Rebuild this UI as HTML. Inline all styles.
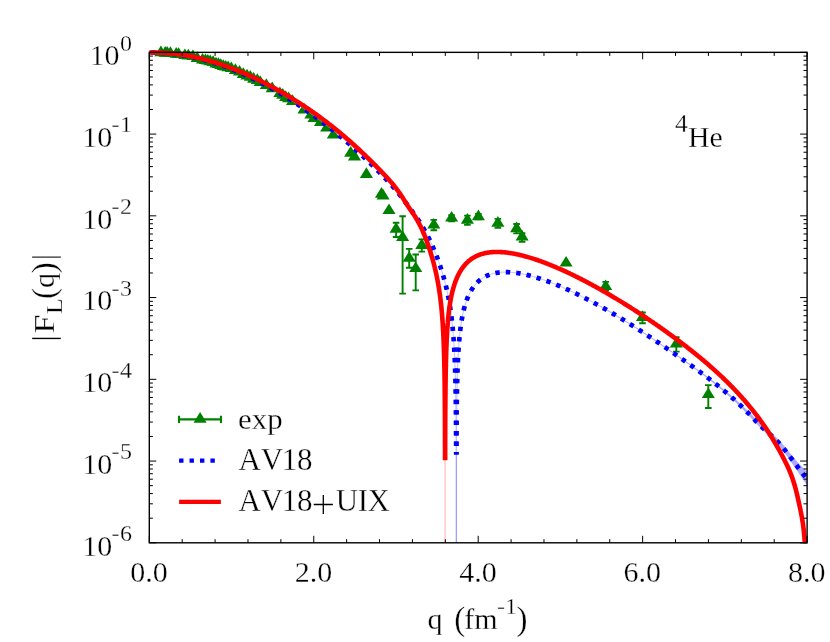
<!DOCTYPE html>
<html><head><meta charset="utf-8"><title>4He form factor</title>
<style>html,body{margin:0;padding:0;background:#fff}svg{display:block}text{font-family:"Liberation Serif",serif;fill:#000;stroke:#fff;stroke-width:0.3px}</style></head><body>
<svg style="will-change:transform" width="830" height="642" viewBox="0 0 830 642">
<rect width="830" height="642" fill="#fff"/>
<g fill="#008000" stroke="none">
<path d="M160.90,45.50 L154.35,56.20 L167.45,56.20 Z"/>
<path d="M165.20,46.00 L158.65,56.70 L171.75,56.70 Z"/>
<path d="M167.20,45.90 L160.65,56.60 L173.75,56.60 Z"/>
<path d="M170.40,46.20 L163.85,56.90 L176.95,56.90 Z"/>
<path d="M176.20,47.00 L169.65,57.70 L182.75,57.70 Z"/>
<path d="M178.60,47.20 L172.05,57.90 L185.15,57.90 Z"/>
<path d="M184.90,48.40 L178.35,59.10 L191.45,59.10 Z"/>
<path d="M188.30,48.80 L181.75,59.50 L194.85,59.50 Z"/>
<path d="M192.90,49.40 L186.35,60.10 L199.45,60.10 Z"/>
<path d="M197.20,51.30 L190.65,62.00 L203.75,62.00 Z"/>
<path d="M202.50,52.90 L195.95,63.60 L209.05,63.60 Z"/>
<path d="M205.40,53.40 L198.85,64.10 L211.95,64.10 Z"/>
<path d="M207.80,53.90 L201.25,64.60 L214.35,64.60 Z"/>
<path d="M210.20,54.60 L203.65,65.30 L216.75,65.30 Z"/>
<path d="M213.10,55.30 L206.55,66.00 L219.65,66.00 Z"/>
<path d="M216.00,56.80 L209.45,67.50 L222.55,67.50 Z"/>
<path d="M218.40,57.30 L211.85,68.00 L224.95,68.00 Z"/>
<path d="M220.80,58.20 L214.25,68.90 L227.35,68.90 Z"/>
<path d="M223.30,59.20 L216.75,69.90 L229.85,69.90 Z"/>
<path d="M225.70,59.90 L219.15,70.60 L232.25,70.60 Z"/>
<path d="M228.10,60.60 L221.55,71.30 L234.65,71.30 Z"/>
<path d="M231.30,61.40 L224.75,72.10 L237.85,72.10 Z"/>
<path d="M235.40,63.30 L228.85,74.00 L241.95,74.00 Z"/>
<path d="M239.50,64.90 L232.95,75.60 L246.05,75.60 Z"/>
<path d="M243.30,67.20 L236.75,77.90 L249.85,77.90 Z"/>
<path d="M247.00,68.80 L240.45,79.50 L253.55,79.50 Z"/>
<path d="M250.30,70.00 L243.75,80.70 L256.85,80.70 Z"/>
<path d="M253.60,72.00 L247.05,82.70 L260.15,82.70 Z"/>
<path d="M257.30,73.30 L250.75,84.00 L263.85,84.00 Z"/>
<path d="M260.20,75.30 L253.65,86.00 L266.75,86.00 Z"/>
<path d="M266.30,78.20 L259.75,88.90 L272.85,88.90 Z"/>
<path d="M272.20,81.60 L265.65,92.30 L278.75,92.30 Z"/>
<path d="M279.90,86.40 L273.35,97.10 L286.45,97.10 Z"/>
<path d="M282.80,88.10 L276.25,98.80 L289.35,98.80 Z"/>
<path d="M285.70,90.30 L279.15,101.00 L292.25,101.00 Z"/>
<path d="M288.60,91.60 L282.05,102.30 L295.15,102.30 Z"/>
<path d="M292.50,94.30 L285.95,105.00 L299.05,105.00 Z"/>
<path d="M304.00,102.70 L297.45,113.40 L310.55,113.40 Z"/>
<path d="M310.90,107.90 L304.35,118.60 L317.45,118.60 Z"/>
<path d="M314.00,111.40 L307.45,122.10 L320.55,122.10 Z"/>
<path d="M320.50,115.20 L313.95,125.90 L327.05,125.90 Z"/>
<path d="M326.70,120.70 L320.15,131.40 L333.25,131.40 Z"/>
<path d="M333.30,127.90 L326.75,138.60 L339.85,138.60 Z"/>
<path d="M350.70,146.10 L344.15,156.80 L357.25,156.80 Z"/>
<path d="M354.50,149.70 L347.95,160.40 L361.05,160.40 Z"/>
<path d="M366.40,167.30 L359.85,178.00 L372.95,178.00 Z"/>
<path d="M381.50,187.10 L374.95,197.80 L388.05,197.80 Z"/>
<path d="M383.10,188.90 L376.55,199.60 L389.65,199.60 Z"/>
<path d="M389.00,203.40 L382.45,214.10 L395.55,214.10 Z"/>
<path d="M566.10,255.90 L559.55,266.60 L572.65,266.60 Z"/>
<path d="M396.10,222.10 L389.55,232.80 L402.65,232.80 Z"/>
<path d="M402.60,230.30 L396.05,241.00 L409.15,241.00 Z"/>
<path d="M409.20,251.10 L402.65,261.80 L415.75,261.80 Z"/>
<path d="M415.70,261.40 L409.15,272.10 L422.25,272.10 Z"/>
<path d="M421.80,238.20 L415.25,248.90 L428.35,248.90 Z"/>
<path d="M433.80,217.90 L427.25,228.60 L440.35,228.60 Z"/>
<path d="M451.60,210.90 L445.05,221.60 L458.15,221.60 Z"/>
<path d="M467.40,213.00 L460.85,223.70 L473.95,223.70 Z"/>
<path d="M478.40,209.50 L471.85,220.20 L484.95,220.20 Z"/>
<path d="M497.90,216.10 L491.35,226.80 L504.45,226.80 Z"/>
<path d="M516.60,221.50 L510.05,232.20 L523.15,232.20 Z"/>
<path d="M522.10,229.80 L515.55,240.50 L528.65,240.50 Z"/>
<path d="M605.70,279.40 L599.15,290.10 L612.25,290.10 Z"/>
<path d="M642.50,310.30 L635.95,321.00 L649.05,321.00 Z"/>
<path d="M676.30,336.90 L669.75,347.60 L682.85,347.60 Z"/>
<path d="M708.30,387.40 L701.75,398.10 L714.85,398.10 Z"/>
</g>
<g fill="none" stroke="#008000" stroke-width="1.9">
<path d="M396.10,222.70 V237.00 M392.80,222.70 H399.40 M392.80,237.00 H399.40"/>
<path d="M402.60,216.30 V293.60 M399.30,216.30 H405.90 M399.30,293.60 H405.90"/>
<path d="M409.20,248.90 V267.80 M405.90,248.90 H412.50 M405.90,267.80 H412.50"/>
<path d="M415.70,254.50 V290.40 M412.40,254.50 H419.00 M412.40,290.40 H419.00"/>
<path d="M421.80,239.40 V251.60 M418.50,239.40 H425.10 M418.50,251.60 H425.10"/>
<path d="M433.80,219.90 V230.20 M430.50,219.90 H437.10 M430.50,230.20 H437.10"/>
<path d="M451.60,215.20 V221.20 M448.30,215.20 H454.90 M448.30,221.20 H454.90"/>
<path d="M467.40,215.60 V224.90 M464.10,215.60 H470.70 M464.10,224.90 H470.70"/>
<path d="M478.40,213.90 V219.30 M475.10,213.90 H481.70 M475.10,219.30 H481.70"/>
<path d="M497.90,218.90 V227.70 M494.60,218.90 H501.20 M494.60,227.70 H501.20"/>
<path d="M516.60,224.00 V233.40 M513.30,224.00 H519.90 M513.30,233.40 H519.90"/>
<path d="M522.10,233.30 V241.70 M518.80,233.30 H525.40 M518.80,241.70 H525.40"/>
<path d="M605.70,281.90 V290.60 M602.40,281.90 H609.00 M602.40,290.60 H609.00"/>
<path d="M642.50,312.50 V323.20 M639.20,312.50 H645.80 M639.20,323.20 H645.80"/>
<path d="M676.30,337.30 V351.60 M673.00,337.30 H679.60 M673.00,351.60 H679.60"/>
<path d="M708.30,385.10 V408.00 M705.00,385.10 H711.60 M705.00,408.00 H711.60"/>
</g>
<path d="M149.30,52.50 L150.12,52.49 L150.94,52.49 L151.77,52.49 L152.59,52.50 L153.41,52.51 L154.23,52.52 L155.06,52.54 L155.88,52.56 L156.70,52.58 L157.52,52.61 L158.34,52.64 L159.17,52.68 L159.99,52.71 L160.81,52.76 L161.63,52.80 L162.46,52.85 L163.28,52.91 L164.10,52.96 L164.92,53.02 L165.75,53.09 L166.57,53.15 L167.39,53.23 L168.21,53.30 L169.03,53.38 L169.86,53.46 L170.68,53.55 L171.50,53.63 L172.32,53.73 L173.15,53.82 L173.97,53.92 L174.79,54.02 L175.61,54.13 L176.43,54.24 L177.26,54.35 L178.08,54.47 L178.90,54.59 L179.72,54.71 L180.55,54.84 L181.37,54.97 L182.19,55.10 L183.01,55.24 L183.83,55.38 L184.66,55.53 L185.48,55.67 L186.30,55.82 L187.12,55.98 L187.95,56.13 L188.77,56.30 L189.59,56.46 L190.41,56.63 L191.23,56.80 L192.06,56.97 L192.88,57.15 L193.70,57.33 L194.52,57.51 L195.35,57.70 L196.17,57.89 L196.99,58.08 L197.81,58.28 L198.63,58.48 L199.46,58.68 L200.28,58.89 L201.10,59.10 L201.92,59.31 L202.75,59.53 L203.57,59.75 L204.39,59.97 L205.21,60.20 L206.04,60.43 L206.86,60.66 L207.68,60.90 L208.50,61.13 L209.32,61.38 L210.15,61.62 L210.97,61.87 L211.79,62.12 L212.61,62.38 L213.44,62.63 L214.26,62.89 L215.08,63.16 L215.90,63.42 L216.72,63.69 L217.55,63.97 L218.37,64.24 L219.19,64.52 L220.01,64.80 L220.84,65.09 L221.66,65.38 L222.48,65.67 L223.30,65.96 L224.12,66.26 L224.95,66.56 L225.77,66.86 L226.59,67.17 L227.41,67.48 L228.24,67.79 L229.06,68.11 L229.88,68.43 L230.70,68.75 L231.53,69.07 L232.35,69.40 L233.17,69.73 L233.99,70.06 L234.81,70.40 L235.64,70.74 L236.46,71.08 L237.28,71.42 L238.10,71.77 L238.93,72.12 L239.75,72.47 L240.57,72.83 L241.39,73.19 L242.21,73.55 L243.04,73.92 L243.86,74.29 L244.68,74.66 L245.50,75.03 L246.33,75.41 L247.15,75.79 L247.97,76.17 L248.79,76.55 L249.61,76.94 L250.44,77.33 L251.26,77.73 L252.08,78.12 L252.90,78.52 L253.73,78.92 L254.55,79.33 L255.37,79.74 L256.19,80.15 L257.01,80.56 L257.84,80.97 L258.66,81.39 L259.48,81.82 L260.30,82.24 L261.13,82.67 L261.95,83.10 L262.77,83.53 L263.59,83.96 L264.42,84.40 L265.24,84.84 L266.06,85.29 L266.88,85.73 L267.70,86.18 L268.53,86.63 L269.35,87.09 L270.17,87.54 L270.99,88.00 L271.82,88.47 L272.64,88.93 L273.46,89.40 L274.28,89.87 L275.10,90.34 L275.93,90.82 L276.75,91.30 L277.57,91.78 L278.39,92.26 L279.22,92.75 L280.04,93.24 L280.86,93.73 L281.68,94.23 L282.50,94.72 L283.33,95.22 L284.15,95.73 L284.97,96.23 L285.79,96.74 L286.62,97.25 L287.44,97.76 L288.26,98.28 L289.08,98.80 L289.90,99.32 L290.73,99.84 L291.55,100.37 L292.37,100.90 L293.19,101.43 L294.02,101.96 L294.84,102.50 L295.66,103.04 L296.48,103.58 L297.31,104.13 L298.13,104.68 L298.95,105.23 L299.77,105.78 L300.59,106.33 L301.42,106.89 L302.24,107.45 L303.06,108.02 L303.88,108.58 L304.71,109.15 L305.53,109.72 L306.35,110.30 L307.17,110.87 L307.99,111.45 L308.82,112.03 L309.64,112.62 L310.46,113.21 L311.28,113.80 L312.11,114.39 L312.93,114.98 L313.75,115.58 L314.57,116.18 L315.39,116.78 L316.22,117.39 L317.04,118.00 L317.86,118.61 L318.68,119.22 L319.51,119.84 L320.33,120.46 L321.15,121.08 L321.97,121.71 L322.79,122.33 L323.62,122.96 L324.44,123.60 L325.26,124.23 L326.08,124.87 L326.91,125.51 L327.73,126.16 L328.55,126.80 L329.37,127.45 L330.20,128.10 L331.02,128.76 L331.84,129.41 L332.66,130.07 L333.48,130.74 L334.31,131.40 L335.13,132.07 L335.95,132.74 L336.77,133.41 L337.60,134.09 L338.42,134.77 L339.24,135.45 L340.06,136.13 L340.88,136.82 L341.71,137.51 L342.53,138.20 L343.35,138.89 L344.17,139.59 L345.00,140.29 L345.82,140.99 L346.64,141.70 L347.46,142.41 L348.28,143.12 L349.11,143.83 L349.93,144.55 L350.75,145.27 L351.57,145.99 L352.40,146.72 L353.22,147.44 L354.04,148.17 L354.86,148.91 L355.68,149.65 L356.51,150.39 L357.33,151.13 L358.15,151.87 L358.97,152.62 L359.80,153.37 L360.62,154.13 L361.44,154.89 L362.26,155.65 L363.09,156.41 L363.91,157.18 L364.73,157.95 L365.55,158.72 L366.37,159.50 L367.20,160.28 L368.02,161.06 L368.84,161.85 L369.66,162.64 L370.49,163.43 L371.31,164.23 L372.13,165.03 L372.95,165.83 L373.77,166.64 L374.60,167.45 L375.42,168.27 L376.24,169.08 L377.06,169.91 L377.89,170.73 L378.71,171.56 L379.53,172.40 L380.35,173.24 L381.17,174.08 L382.00,174.92 L382.82,175.78 L383.64,176.63 L384.46,177.49 L385.29,178.36 L386.11,179.23 L386.93,180.10 L387.75,180.99 L388.57,181.87 L389.40,182.77 L390.22,183.68 L391.04,184.59 L391.86,185.51 L392.69,186.44 L393.51,187.38 L394.33,188.33 L395.15,189.29 L395.98,190.26 L396.80,191.24 L397.62,192.23 L398.44,193.24 L399.26,194.26 L400.09,195.29 L400.91,196.33 L401.73,197.39 L402.55,198.47 L403.38,199.55 L404.20,200.64 L405.02,201.74 L405.84,202.84 L406.66,203.95 L407.49,205.05 L408.31,206.16 L409.13,207.26 L409.95,208.36 L410.78,209.46 L411.60,210.56 L412.42,211.66 L413.24,212.78 L414.06,213.90 L414.89,215.04 L415.71,216.19 L416.53,217.35 L417.35,218.54 L418.18,219.76 L419.00,221.00 L419.82,222.26 L420.64,223.56 L421.46,224.89 L422.29,226.25 L423.11,227.64 L423.93,229.06 L424.75,230.52 L425.58,232.01 L426.40,233.53 L427.22,235.10 L428.04,236.70 L428.87,238.34 L429.69,240.02 L430.51,241.74 L431.33,243.51 L432.15,245.32 L432.98,247.19 L433.80,249.10 L434.62,251.07 L435.44,253.10 L436.27,255.19 L437.09,257.33 L437.91,259.54 L438.73,261.83 L439.55,264.18 L440.38,266.62 L441.20,269.14 L442.02,271.76 L442.84,274.49 L443.67,277.34 L444.49,280.34 L445.31,283.49 L446.13,286.84 L446.95,290.42 L447.78,294.26 L448.60,298.43 L449.42,303.01 L450.24,308.09 L451.07,313.83 L451.89,320.46 L452.19,323.18 L452.37,324.94 L452.55,326.69 L452.72,328.44 L452.88,330.19 L453.03,331.93 L453.18,333.66 L453.32,335.39 L453.46,337.12 L453.58,338.84 L453.71,340.56 L453.82,342.27 L453.93,343.99 L454.04,345.69 L454.14,347.40 L454.24,349.10 L454.33,350.80 L454.42,352.49 L454.51,354.18 L454.59,355.87 L454.66,357.56 L454.74,359.25 L454.81,360.93 L454.87,362.61 L454.94,364.29 L455.00,365.96 L455.06,367.64 L455.11,369.31 L455.17,370.98 L455.22,372.65 L455.27,374.32 L455.31,375.99 L455.36,377.65 L455.40,379.32 L455.44,380.98 L455.48,382.64 L455.52,384.30 L455.55,385.96 L455.59,387.62 L455.62,389.27 L455.65,390.93 L455.68,392.58 L455.71,394.24 L455.73,395.89 L455.76,397.54 L455.78,399.19 L455.81,400.85 L455.83,402.50 L455.85,404.14 L455.87,405.79 L455.89,407.44 L455.91,409.09 L455.93,410.74 L455.94,412.38 L455.96,414.03 L455.97,415.67 L455.99,417.32 L456.00,418.96 L456.02,420.61 L456.03,422.25 L456.04,423.89 L456.05,425.54 L456.06,427.18 L456.07,428.82 L456.08,430.46 L456.09,432.10 L456.10,433.74 L456.11,435.39 L456.12,437.03 L456.13,438.67 L456.14,440.31 L456.14,441.95 L456.15,443.59 L456.16,445.23 L456.16,446.86 L456.17,448.50 L456.18,450.14 L456.18,451.78 L456.19,453.42 L456.30,454.50 L456.41,453.57 L456.42,451.94 L456.42,450.31 L456.43,448.68 L456.44,447.05 L456.44,445.42 L456.45,443.79 L456.46,442.16 L456.46,440.53 L456.47,438.90 L456.48,437.27 L456.49,435.64 L456.50,434.01 L456.51,432.38 L456.52,430.76 L456.53,429.13 L456.54,427.50 L456.55,425.87 L456.56,424.25 L456.57,422.62 L456.58,420.99 L456.60,419.37 L456.61,417.74 L456.63,416.12 L456.64,414.49 L456.66,412.87 L456.67,411.25 L456.69,409.62 L456.71,408.00 L456.73,406.38 L456.75,404.76 L456.77,403.14 L456.79,401.52 L456.82,399.90 L456.84,398.28 L456.87,396.66 L456.89,395.05 L456.92,393.43 L456.95,391.82 L456.98,390.20 L457.01,388.59 L457.05,386.98 L457.08,385.37 L457.12,383.76 L457.16,382.15 L457.20,380.54 L457.24,378.94 L457.29,377.33 L457.33,375.73 L457.38,374.13 L457.43,372.53 L457.49,370.93 L457.54,369.33 L457.60,367.74 L457.66,366.14 L457.73,364.55 L457.79,362.96 L457.86,361.38 L457.94,359.79 L458.01,358.21 L458.09,356.63 L458.18,355.05 L458.27,353.48 L458.36,351.90 L458.46,350.34 L458.56,348.77 L458.67,347.21 L458.78,345.65 L458.89,344.09 L459.02,342.54 L459.14,340.99 L459.28,339.45 L459.42,337.91 L459.57,336.38 L459.72,334.85 L459.88,333.32 L460.05,331.80 L460.23,330.29 L460.41,328.78 L461.23,322.87 L462.06,317.95 L462.88,313.77 L463.70,310.15 L464.52,306.97 L465.34,304.15 L466.17,301.62 L466.99,299.34 L467.81,297.27 L468.63,295.39 L469.46,293.66 L470.28,292.07 L471.10,290.61 L471.92,289.25 L472.74,288.00 L473.57,286.83 L474.39,285.75 L475.21,284.74 L476.03,283.80 L476.86,282.92 L477.68,282.10 L478.50,281.33 L479.32,280.61 L480.15,279.93 L480.97,279.30 L481.79,278.71 L482.61,278.16 L483.43,277.64 L484.26,277.15 L485.08,276.70 L485.90,276.28 L486.72,275.88 L487.55,275.51 L488.37,275.17 L489.19,274.85 L490.01,274.55 L490.83,274.27 L491.66,274.02 L492.48,273.78 L493.30,273.57 L494.12,273.37 L494.95,273.19 L495.77,273.02 L496.59,272.88 L497.41,272.74 L498.23,272.63 L499.06,272.52 L499.88,272.43 L500.70,272.36 L501.52,272.29 L502.35,272.24 L503.17,272.20 L503.99,272.17 L504.81,272.16 L505.63,272.15 L506.46,272.16 L507.28,272.17 L508.10,272.20 L508.92,272.23 L509.75,272.27 L510.57,272.33 L511.39,272.39 L512.21,272.46 L513.04,272.54 L513.86,272.62 L514.68,272.72 L515.50,272.82 L516.32,272.93 L517.15,273.04 L517.97,273.17 L518.79,273.30 L519.61,273.44 L520.44,273.58 L521.26,273.73 L522.08,273.89 L522.90,274.05 L523.72,274.22 L524.55,274.39 L525.37,274.57 L526.19,274.76 L527.01,274.95 L527.84,275.15 L528.66,275.35 L529.48,275.56 L530.30,275.77 L531.12,275.99 L531.95,276.21 L532.77,276.44 L533.59,276.67 L534.41,276.91 L535.24,277.15 L536.06,277.40 L536.88,277.65 L537.70,277.90 L538.52,278.16 L539.35,278.43 L540.17,278.69 L540.99,278.97 L541.81,279.24 L542.64,279.52 L543.46,279.80 L544.28,280.09 L545.10,280.38 L545.93,280.67 L546.75,280.97 L547.57,281.27 L548.39,281.58 L549.21,281.89 L550.04,282.20 L550.86,282.51 L551.68,282.83 L552.50,283.15 L553.33,283.48 L554.15,283.81 L554.97,284.14 L555.79,284.47 L556.61,284.81 L557.44,285.15 L558.26,285.49 L559.08,285.84 L559.90,286.19 L560.73,286.54 L561.55,286.90 L562.37,287.26 L563.19,287.62 L564.01,287.98 L564.84,288.35 L565.66,288.71 L566.48,289.09 L567.30,289.46 L568.13,289.84 L568.95,290.21 L569.77,290.60 L570.59,290.98 L571.41,291.37 L572.24,291.76 L573.06,292.15 L573.88,292.54 L574.70,292.94 L575.53,293.34 L576.35,293.74 L577.17,294.14 L577.99,294.54 L578.82,294.95 L579.64,295.36 L580.46,295.77 L581.28,296.19 L582.10,296.60 L582.93,297.02 L583.75,297.44 L584.57,297.87 L585.39,298.29 L586.22,298.72 L587.04,299.15 L587.86,299.58 L588.68,300.01 L589.50,300.45 L590.33,300.88 L591.15,301.32 L591.97,301.76 L592.79,302.21 L593.62,302.65 L594.44,303.10 L595.26,303.55 L596.08,304.00 L596.90,304.45 L597.73,304.90 L598.55,305.36 L599.37,305.82 L600.19,306.28 L601.02,306.74 L601.84,307.20 L602.66,307.67 L603.48,308.13 L604.30,308.60 L605.13,309.07 L605.95,309.55 L606.77,310.02 L607.59,310.49 L608.42,310.97 L609.24,311.45 L610.06,311.93 L610.88,312.41 L611.71,312.90 L612.53,313.38 L613.35,313.87 L614.17,314.36 L614.99,314.85 L615.82,315.34 L616.64,315.83 L617.46,316.33 L618.28,316.82 L619.11,317.32 L619.93,317.82 L620.75,318.32 L621.57,318.83 L622.39,319.33 L623.22,319.84 L624.04,320.34 L624.86,320.85 L625.68,321.36 L626.51,321.87 L627.33,322.39 L628.15,322.90 L628.97,323.42 L629.79,323.93 L630.62,324.45 L631.44,324.97 L632.26,325.49 L633.08,326.02 L633.91,326.54 L634.73,327.07 L635.55,327.59 L636.37,328.12 L637.19,328.65 L638.02,329.18 L638.84,329.71 L639.66,330.24 L640.48,330.78 L641.31,331.31 L642.13,331.85 L642.95,332.39 L643.77,332.92 L644.60,333.46 L645.42,334.00 L646.24,334.55 L647.06,335.09 L647.88,335.63 L648.71,336.18 L649.53,336.73 L650.35,337.27 L651.17,337.82 L652.00,338.37 L652.82,338.92 L653.64,339.47 L654.46,340.03 L655.28,340.58 L656.11,341.13 L656.93,341.69 L657.75,342.25 L658.57,342.80 L659.40,343.36 L660.22,343.92 L661.04,344.48 L661.86,345.04 L662.68,345.60 L663.51,346.17 L664.33,346.73 L665.15,347.29 L665.97,347.86 L666.80,348.42 L667.62,348.99 L668.44,349.56 L669.26,350.13 L670.08,350.70 L670.91,351.27 L671.73,351.84 L672.55,352.41 L673.37,352.98 L674.20,353.56 L675.02,354.13 L675.84,354.70 L676.66,355.28 L677.49,355.86 L678.31,356.43 L679.13,357.01 L679.95,357.59 L680.77,358.17 L681.60,358.75 L682.42,359.33 L683.24,359.91 L684.06,360.49 L684.89,361.07 L685.71,361.65 L686.53,362.23 L687.35,362.82 L688.17,363.40 L689.00,363.99 L689.82,364.58 L690.64,365.17 L691.46,365.75 L692.29,366.35 L693.11,366.94 L693.93,367.53 L694.75,368.13 L695.57,368.72 L696.40,369.32 L697.22,369.92 L698.04,370.52 L698.86,371.12 L699.69,371.73 L700.51,372.33 L701.33,372.94 L702.15,373.55 L702.97,374.16 L703.80,374.78 L704.62,375.40 L705.44,376.01 L706.26,376.64 L707.09,377.26 L707.91,377.88 L708.73,378.51 L709.55,379.14 L710.38,379.78 L711.20,380.41 L712.02,381.05 L712.84,381.70 L713.66,382.34 L714.49,382.99 L715.31,383.64 L716.13,384.29 L716.95,384.95 L717.78,385.61 L718.60,386.27 L719.42,386.94 L720.24,387.61 L721.06,388.28 L721.89,388.96 L722.71,389.64 L723.53,390.33 L724.35,391.01 L725.18,391.71 L726.00,392.40 L726.82,393.10 L727.64,393.80 L728.46,394.51 L729.29,395.22 L730.11,395.94 L730.93,396.66 L731.75,397.39 L732.58,398.12 L733.40,398.85 L734.22,399.59 L735.04,400.34 L735.86,401.09 L736.69,401.84 L737.51,402.60 L738.33,403.37 L739.15,404.14 L739.98,404.92 L740.80,405.71 L741.62,406.50 L742.44,407.30 L743.27,408.10 L744.09,408.91 L744.91,409.73 L745.73,410.55 L746.55,411.39 L747.38,412.22 L748.20,413.07 L749.02,413.92 L749.84,414.77 L750.67,415.63 L751.49,416.48 L752.31,417.34 L753.13,418.20 L753.95,419.05 L754.78,419.91 L755.60,420.76 L756.42,421.61 L757.24,422.45 L758.07,423.28 L758.89,424.11 L759.71,424.93 L760.53,425.75 L761.35,426.55 L762.18,427.34 L763.00,428.12 L763.82,428.88 L764.64,429.64 L765.47,430.39 L766.29,431.13 L767.11,431.86 L767.93,432.59 L768.75,433.32 L769.58,434.06 L770.40,434.79 L771.22,435.53 L772.04,436.27 L772.87,437.03 L773.69,437.79 L774.51,438.57 L775.33,439.36 L776.16,440.16 L776.98,440.98 L777.80,441.83 L778.62,442.69 L779.44,443.58 L780.27,444.49 L781.09,445.43 L781.91,446.38 L782.73,447.36 L783.56,448.36 L784.38,449.37 L785.20,450.40 L786.02,451.44 L786.84,452.49 L787.67,453.56 L788.49,454.64 L789.31,455.72 L790.13,456.82 L790.96,457.91 L791.78,459.02 L792.60,460.13 L793.42,461.24 L794.24,462.35 L795.07,463.45 L795.89,464.56 L796.71,465.67 L797.53,466.76 L798.36,467.86 L799.18,468.94 L800.00,470.01 L800.82,471.08 L801.64,472.13 L802.47,473.17 L803.29,474.20 L804.11,475.21 L804.93,476.20 L805.76,477.17 L806.58,478.12 L807.10,478.71" fill="none" stroke="#aaaaff" stroke-width="0.75"/>
<path d="M456.3,454.5 V542.8" stroke="#8c8cff" stroke-width="1.1" fill="none"/>
<path d="M600.19,305.91 L601.02,306.37 L601.84,306.83 L602.66,307.29 L603.48,307.76 L604.30,308.23 L605.13,308.70 L605.95,309.17 L606.77,309.64 L607.59,310.11 L608.42,310.59 L609.24,311.07 L610.06,311.55 L610.88,312.03 L611.71,312.51 L612.53,313.00 L613.35,313.48 L614.17,313.97 L614.99,314.46 L615.82,314.95 L616.64,315.44 L617.46,315.94 L618.28,316.43 L619.11,316.93 L619.93,317.43 L620.75,317.93 L621.57,318.43 L622.39,318.93 L623.22,319.44 L624.04,319.94 L624.86,320.45 L625.68,320.96 L626.51,321.47 L627.33,321.98 L628.15,322.49 L628.97,323.01 L629.79,323.52 L630.62,324.04 L631.44,324.56 L632.26,325.08 L633.08,325.60 L633.91,326.13 L634.73,326.65 L635.55,327.17 L636.37,327.70 L637.19,328.23 L638.02,328.76 L638.84,329.29 L639.66,329.82 L640.48,330.35 L641.31,330.89 L642.13,331.42 L642.95,331.96 L643.77,332.50 L644.60,333.03 L645.42,333.57 L646.24,334.12 L647.06,334.66 L647.88,335.20 L648.71,335.74 L649.53,336.29 L650.35,336.84 L651.17,337.38 L652.00,337.93 L652.82,338.48 L653.64,339.03 L654.46,339.58 L655.28,340.14 L656.11,340.69 L656.93,341.24 L657.75,341.80 L658.57,342.35 L659.40,342.91 L660.22,343.47 L661.04,344.02 L661.86,344.58 L662.68,345.14 L663.51,345.69 L664.33,346.25 L665.15,346.81 L665.97,347.37 L666.80,347.93 L667.62,348.49 L668.44,349.06 L669.26,349.62 L670.08,350.18 L670.91,350.75 L671.73,351.32 L672.55,351.88 L673.37,352.45 L674.20,353.02 L675.02,353.59 L675.84,354.16 L676.66,354.73 L677.49,355.30 L678.31,355.87 L679.13,356.44 L679.95,357.01 L680.77,357.59 L681.60,358.16 L682.42,358.73 L683.24,359.31 L684.06,359.89 L684.89,360.46 L685.71,361.04 L686.53,361.62 L687.35,362.20 L688.17,362.78 L689.00,363.36 L689.82,363.94 L690.64,364.52 L691.46,365.11 L692.29,365.69 L693.11,366.28 L693.93,366.87 L694.75,367.46 L695.57,368.05 L696.40,368.64 L697.22,369.24 L698.04,369.83 L698.86,370.43 L699.69,371.03 L700.51,371.62 L701.33,372.21 L702.15,372.81 L702.97,373.40 L703.80,374.00 L704.62,374.60 L705.44,375.21 L706.26,375.81 L707.09,376.42 L707.91,377.03 L708.73,377.64 L709.55,378.25 L710.38,378.87 L711.20,379.49 L712.02,380.11 L712.84,380.74 L713.66,381.37 L714.49,382.00 L715.31,382.63 L716.13,383.27 L716.95,383.91 L717.78,384.55 L718.60,385.20 L719.42,385.85 L720.24,386.50 L721.06,387.16 L721.89,387.81 L722.71,388.47 L723.53,389.14 L724.35,389.80 L725.18,390.48 L726.00,391.15 L726.82,391.83 L727.64,392.51 L728.46,393.20 L729.29,393.89 L730.11,394.59 L730.93,395.29 L731.75,395.99 L732.58,396.70 L733.40,397.42 L734.22,398.14 L735.04,398.86 L735.86,399.59 L736.69,400.33 L737.51,401.07 L738.33,401.81 L739.15,402.56 L739.98,403.32 L740.80,404.08 L741.62,404.85 L742.44,405.62 L743.27,406.40 L744.09,407.19 L744.91,407.98 L745.73,408.78 L746.55,409.59 L747.38,410.40 L748.20,411.22 L749.02,412.05 L749.84,412.87 L750.67,413.71 L751.49,414.54 L752.31,415.37 L753.13,416.20 L753.95,417.04 L754.78,417.87 L755.60,418.69 L756.42,419.51 L757.24,420.33 L758.07,421.14 L758.89,421.95 L759.71,422.74 L760.53,423.52 L761.35,424.29 L762.18,425.05 L763.00,425.79 L763.82,426.53 L764.64,427.25 L765.47,427.96 L766.29,428.67 L767.11,429.37 L767.93,430.07 L768.75,430.77 L769.58,431.47 L770.40,432.17 L771.22,432.87 L772.04,433.58 L772.87,434.30 L773.69,435.03 L774.51,435.77 L775.33,436.53 L776.16,437.30 L776.98,438.09 L777.80,438.90 L778.62,439.73 L779.44,440.59 L780.27,441.47 L781.09,442.37 L781.91,443.29 L782.73,444.23 L783.56,445.20 L784.38,446.17 L785.20,447.17 L786.02,448.18 L786.84,449.20 L787.67,450.18 L788.49,451.16 L789.31,452.14 L790.13,453.13 L790.96,454.13 L791.78,455.14 L792.60,456.15 L793.42,457.16 L794.24,458.17 L795.07,459.17 L795.89,460.18 L796.71,461.19 L797.53,462.18 L798.36,463.07 L799.18,463.91 L800.00,464.75 L800.82,465.58 L801.64,466.40 L802.47,467.20 L803.29,467.99 L804.11,468.76 L804.93,469.53 L805.76,470.28 L806.58,471.01 L807.10,471.46 L807.10,485.32 L806.58,484.61 L805.76,483.48 L804.93,482.33 L804.11,481.17 L803.29,479.98 L802.47,478.78 L801.64,477.57 L800.82,476.34 L800.00,475.10 L799.18,473.85 L798.36,472.59 L797.53,471.34 L796.71,470.15 L795.89,468.96 L795.07,467.76 L794.24,466.56 L793.42,465.36 L792.60,464.15 L791.78,462.95 L790.96,461.76 L790.13,460.57 L789.31,459.38 L788.49,458.20 L787.67,457.03 L786.84,455.89 L786.02,454.79 L785.20,453.72 L784.38,452.65 L783.56,451.60 L782.73,450.57 L781.91,449.56 L781.09,448.57 L780.27,447.59 L779.44,446.65 L778.62,445.72 L777.80,444.82 L776.98,443.94 L776.16,443.08 L775.33,442.24 L774.51,441.41 L773.69,440.60 L772.87,439.80 L772.04,439.01 L771.22,438.23 L770.40,437.45 L769.58,436.68 L768.75,435.91 L767.93,435.15 L767.11,434.38 L766.29,433.61 L765.47,432.83 L764.64,432.05 L763.82,431.25 L763.00,430.45 L762.18,429.64 L761.35,428.81 L760.53,427.97 L759.71,427.13 L758.89,426.28 L758.07,425.43 L757.24,424.57 L756.42,423.70 L755.60,422.83 L754.78,421.95 L753.95,421.07 L753.13,420.19 L752.31,419.31 L751.49,418.43 L750.67,417.55 L749.84,416.67 L749.02,415.79 L748.20,414.91 L747.38,414.05 L746.55,413.18 L745.73,412.33 L744.91,411.48 L744.09,410.63 L743.27,409.80 L742.44,408.97 L741.62,408.15 L740.80,407.33 L739.98,406.52 L739.15,405.72 L738.33,404.93 L737.51,404.14 L736.69,403.36 L735.86,402.58 L735.04,401.81 L734.22,401.05 L733.40,400.29 L732.58,399.53 L731.75,398.78 L730.93,398.03 L730.11,397.29 L729.29,396.56 L728.46,395.82 L727.64,395.10 L726.82,394.37 L726.00,393.65 L725.18,392.93 L724.35,392.22 L723.53,391.51 L722.71,390.81 L721.89,390.11 L721.06,389.41 L720.24,388.72 L719.42,388.03 L718.60,387.35 L717.78,386.67 L716.95,385.99 L716.13,385.32 L715.31,384.64 L714.49,383.98 L713.66,383.31 L712.84,382.65 L712.02,381.99 L711.20,381.34 L710.38,380.69 L709.55,380.04 L708.73,379.39 L707.91,378.74 L707.09,378.10 L706.26,377.46 L705.44,376.82 L704.62,376.19 L703.80,375.55 L702.97,374.92 L702.15,374.29 L701.33,373.67 L700.51,373.04 L699.69,372.42 L698.86,371.82 L698.04,371.21 L697.22,370.60 L696.40,370.00 L695.57,369.39 L694.75,368.79 L693.93,368.19 L693.11,367.59 L692.29,367.00 L691.46,366.40 L690.64,365.81 L689.82,365.21 L689.00,364.62 L688.17,364.03 L687.35,363.44 L686.53,362.85 L685.71,362.26 L684.89,361.67 L684.06,361.09 L683.24,360.50 L682.42,359.92 L681.60,359.33 L680.77,358.75 L679.95,358.16 L679.13,357.58 L678.31,357.00 L677.49,356.41 L676.66,355.83 L675.84,355.25 L675.02,354.67 L674.20,354.09 L673.37,353.52 L672.55,352.94 L671.73,352.36 L670.91,351.79 L670.08,351.21 L669.26,350.64 L668.44,350.06 L667.62,349.49 L666.80,348.92 L665.97,348.35 L665.15,347.78 L664.33,347.21 L663.51,346.64 L662.68,346.07 L661.86,345.50 L661.04,344.94 L660.22,344.37 L659.40,343.81 L658.57,343.25 L657.75,342.69 L656.93,342.13 L656.11,341.58 L655.28,341.02 L654.46,340.47 L653.64,339.91 L652.82,339.36 L652.00,338.81 L651.17,338.26 L650.35,337.71 L649.53,337.16 L648.71,336.61 L647.88,336.07 L647.06,335.52 L646.24,334.98 L645.42,334.44 L644.60,333.89 L643.77,333.35 L642.95,332.81 L642.13,332.27 L641.31,331.74 L640.48,331.20 L639.66,330.67 L638.84,330.13 L638.02,329.60 L637.19,329.07 L636.37,328.54 L635.55,328.01 L634.73,327.48 L633.91,326.96 L633.08,326.43 L632.26,325.91 L631.44,325.38 L630.62,324.86 L629.79,324.34 L628.97,323.83 L628.15,323.31 L627.33,322.79 L626.51,322.28 L625.68,321.77 L624.86,321.26 L624.04,320.75 L623.22,320.24 L622.39,319.73 L621.57,319.23 L620.75,318.72 L619.93,318.22 L619.11,317.72 L618.28,317.22 L617.46,316.72 L616.64,316.23 L615.82,315.73 L614.99,315.24 L614.17,314.75 L613.35,314.26 L612.53,313.77 L611.71,313.28 L610.88,312.80 L610.06,312.31 L609.24,311.83 L608.42,311.35 L607.59,310.87 L606.77,310.40 L605.95,309.92 L605.13,309.45 L604.30,308.98 L603.48,308.51 L602.66,308.04 L601.84,307.58 L601.02,307.11 L600.19,306.65 Z" fill="#aaaaff" stroke="none"/>
<path d="M456.30,454.50 L456.19,453.42 L456.18,451.78 L456.18,450.14 L456.17,448.50 L456.16,446.86 L456.16,445.23 L456.15,443.59 L456.14,441.95 L456.14,440.31 L456.13,438.67 L456.12,437.03 L456.11,435.39 L456.10,433.74 L456.09,432.10 L456.08,430.46 L456.07,428.82 L456.06,427.18 L456.05,425.54 L456.04,423.89 L456.03,422.25 L456.02,420.61 L456.00,418.96 L455.99,417.32 L455.97,415.67 L455.96,414.03 L455.94,412.38 L455.93,410.74 L455.91,409.09 L455.89,407.44 L455.87,405.79 L455.85,404.14 L455.83,402.50 L455.81,400.85 L455.78,399.19 L455.76,397.54 L455.73,395.89 L455.71,394.24 L455.68,392.58 L455.65,390.93 L455.62,389.27 L455.59,387.62 L455.55,385.96 L455.52,384.30 L455.48,382.64 L455.44,380.98 L455.40,379.32 L455.36,377.65 L455.31,375.99 L455.27,374.32 L455.22,372.65 L455.17,370.98 L455.11,369.31 L455.06,367.64 L455.00,365.96 L454.94,364.29 L454.87,362.61 L454.81,360.93 L454.74,359.25 L454.66,357.56 L454.59,355.87 L454.51,354.18 L454.42,352.49 L454.33,350.80 L454.24,349.10 L454.14,347.40 L454.04,345.69 L453.93,343.99 L453.82,342.27 L453.71,340.56 L453.58,338.84 L453.46,337.12 L453.32,335.39 L453.18,333.66 L453.03,331.93 L452.88,330.19 L452.72,328.44 L452.55,326.69 L452.37,324.94 L452.19,323.18 L451.89,320.46 L451.07,313.83 L450.24,308.09 L449.42,303.01 L448.60,298.43 L447.78,294.26 L446.95,290.42 L446.13,286.84 L445.31,283.49 L444.49,280.34 L443.67,277.34 L442.84,274.49 L442.02,271.76 L441.20,269.14 L440.38,266.62 L439.55,264.18 L438.73,261.83 L437.91,259.54 L437.09,257.33 L436.27,255.19 L435.44,253.10 L434.62,251.07 L433.80,249.10 L432.98,247.19 L432.15,245.32 L431.33,243.51 L430.51,241.74 L429.69,240.02 L428.87,238.34 L428.04,236.70 L427.22,235.10 L426.40,233.53 L425.58,232.01 L424.75,230.52 L423.93,229.06 L423.11,227.64 L422.29,226.25 L421.46,224.89 L420.64,223.56 L419.82,222.26 L419.00,221.00 L418.18,219.76 L417.35,218.54 L416.53,217.35 L415.71,216.19 L414.89,215.04 L414.06,213.90 L413.24,212.78 L412.42,211.66 L411.60,210.56 L410.78,209.46 L409.95,208.36 L409.13,207.26 L408.31,206.16 L407.49,205.05 L406.66,203.95 L405.84,202.84 L405.02,201.74 L404.20,200.64 L403.38,199.55 L402.55,198.47 L401.73,197.39 L400.91,196.33 L400.09,195.29 L399.26,194.26 L398.44,193.24 L397.62,192.23 L396.80,191.24 L395.98,190.26 L395.15,189.29 L394.33,188.33 L393.51,187.38 L392.69,186.44 L391.86,185.51 L391.04,184.59 L390.22,183.68 L389.40,182.77 L388.57,181.87 L387.75,180.99 L386.93,180.10 L386.11,179.23 L385.29,178.36 L384.46,177.49 L383.64,176.63 L382.82,175.78 L382.00,174.92 L381.17,174.08 L380.35,173.24 L379.53,172.40 L378.71,171.56 L377.89,170.73 L377.06,169.91 L376.24,169.08 L375.42,168.27 L374.60,167.45 L373.77,166.64 L372.95,165.83 L372.13,165.03 L371.31,164.23 L370.49,163.43 L369.66,162.64 L368.84,161.85 L368.02,161.06 L367.20,160.28 L366.37,159.50 L365.55,158.72 L364.73,157.95 L363.91,157.18 L363.09,156.41 L362.26,155.65 L361.44,154.89 L360.62,154.13 L359.80,153.37 L358.97,152.62 L358.15,151.87 L357.33,151.13 L356.51,150.39 L355.68,149.65 L354.86,148.91 L354.04,148.17 L353.22,147.44 L352.40,146.72 L351.57,145.99 L350.75,145.27 L349.93,144.55 L349.11,143.83 L348.28,143.12 L347.46,142.41 L346.64,141.70 L345.82,140.99 L345.00,140.29 L344.17,139.59 L343.35,138.89 L342.53,138.20 L341.71,137.51 L340.88,136.82 L340.06,136.13 L339.24,135.45 L338.42,134.77 L337.60,134.09 L336.77,133.41 L335.95,132.74 L335.13,132.07 L334.31,131.40 L333.48,130.74 L332.66,130.07 L331.84,129.41 L331.02,128.76 L330.20,128.10 L329.37,127.45 L328.55,126.80 L327.73,126.16 L326.91,125.51 L326.08,124.87 L325.26,124.23 L324.44,123.60 L323.62,122.96 L322.79,122.33 L321.97,121.71 L321.15,121.08 L320.33,120.46 L319.51,119.84 L318.68,119.22 L317.86,118.61 L317.04,118.00 L316.22,117.39 L315.39,116.78 L314.57,116.18 L313.75,115.58 L312.93,114.98 L312.11,114.39 L311.28,113.80 L310.46,113.21 L309.64,112.62 L308.82,112.03 L307.99,111.45 L307.17,110.87 L306.35,110.30 L305.53,109.72 L304.71,109.15 L303.88,108.58 L303.06,108.02 L302.24,107.45 L301.42,106.89 L300.59,106.33 L299.77,105.78 L298.95,105.23 L298.13,104.68 L297.31,104.13 L296.48,103.58 L295.66,103.04 L294.84,102.50 L294.02,101.96 L293.19,101.43 L292.37,100.90 L291.55,100.37 L290.73,99.84 L289.90,99.32 L289.08,98.80 L288.26,98.28 L287.44,97.76 L286.62,97.25 L285.79,96.74 L284.97,96.23 L284.15,95.73 L283.33,95.22 L282.50,94.72 L281.68,94.23 L280.86,93.73 L280.04,93.24 L279.22,92.75 L278.39,92.26 L277.57,91.78 L276.75,91.30 L275.93,90.82 L275.10,90.34 L274.28,89.87 L273.46,89.40 L272.64,88.93 L271.82,88.47 L270.99,88.00 L270.17,87.54 L269.35,87.09 L268.53,86.63 L267.70,86.18 L266.88,85.73 L266.06,85.29 L265.24,84.84 L264.42,84.40 L263.59,83.96 L262.77,83.53 L261.95,83.10 L261.13,82.67 L260.30,82.24 L259.48,81.82 L258.66,81.39 L257.84,80.97 L257.01,80.56 L256.19,80.15 L255.37,79.74 L254.55,79.33 L253.73,78.92 L252.90,78.52 L252.08,78.12 L251.26,77.73 L250.44,77.33 L249.61,76.94 L248.79,76.55 L247.97,76.17 L247.15,75.79 L246.33,75.41 L245.50,75.03 L244.68,74.66 L243.86,74.29 L243.04,73.92 L242.21,73.55 L241.39,73.19 L240.57,72.83 L239.75,72.47 L238.93,72.12 L238.10,71.77 L237.28,71.42 L236.46,71.08 L235.64,70.74 L234.81,70.40 L233.99,70.06 L233.17,69.73 L232.35,69.40 L231.53,69.07 L230.70,68.75 L229.88,68.43 L229.06,68.11 L228.24,67.79 L227.41,67.48 L226.59,67.17 L225.77,66.86 L224.95,66.56 L224.12,66.26 L223.30,65.96 L222.48,65.67 L221.66,65.38 L220.84,65.09 L220.01,64.80 L219.19,64.52 L218.37,64.24 L217.55,63.97 L216.72,63.69 L215.90,63.42 L215.08,63.16 L214.26,62.89 L213.44,62.63 L212.61,62.38 L211.79,62.12 L210.97,61.87 L210.15,61.62 L209.32,61.38 L208.50,61.13 L207.68,60.90 L206.86,60.66 L206.04,60.43 L205.21,60.20 L204.39,59.97 L203.57,59.75 L202.75,59.53 L201.92,59.31 L201.10,59.10 L200.28,58.89 L199.46,58.68 L198.63,58.48 L197.81,58.28 L196.99,58.08 L196.17,57.89 L195.35,57.70 L194.52,57.51 L193.70,57.33 L192.88,57.15 L192.06,56.97 L191.23,56.80 L190.41,56.63 L189.59,56.46 L188.77,56.30 L187.95,56.13 L187.12,55.98 L186.30,55.82 L185.48,55.67 L184.66,55.53 L183.83,55.38 L183.01,55.24 L182.19,55.10 L181.37,54.97 L180.55,54.84 L179.72,54.71 L178.90,54.59 L178.08,54.47 L177.26,54.35 L176.43,54.24 L175.61,54.13 L174.79,54.02 L173.97,53.92 L173.15,53.82 L172.32,53.73 L171.50,53.63 L170.68,53.55 L169.86,53.46 L169.03,53.38 L168.21,53.30 L167.39,53.23 L166.57,53.15 L165.75,53.09 L164.92,53.02 L164.10,52.96 L163.28,52.91 L162.46,52.85 L161.63,52.80 L160.81,52.76 L159.99,52.71 L159.17,52.68 L158.34,52.64 L157.52,52.61 L156.70,52.58 L155.88,52.56 L155.06,52.54 L154.23,52.52 L153.41,52.51 L152.59,52.50 L151.77,52.49 L150.94,52.49 L150.12,52.49 L149.30,52.50" fill="none" stroke="#0000ff" stroke-width="4.7" stroke-dasharray="4.4 6.05" stroke-dashoffset="1.85"/>
<path d="M456.30,454.50 L456.41,453.57 L456.42,451.94 L456.42,450.31 L456.43,448.68 L456.44,447.05 L456.44,445.42 L456.45,443.79 L456.46,442.16 L456.46,440.53 L456.47,438.90 L456.48,437.27 L456.49,435.64 L456.50,434.01 L456.51,432.38 L456.52,430.76 L456.53,429.13 L456.54,427.50 L456.55,425.87 L456.56,424.25 L456.57,422.62 L456.58,420.99 L456.60,419.37 L456.61,417.74 L456.63,416.12 L456.64,414.49 L456.66,412.87 L456.67,411.25 L456.69,409.62 L456.71,408.00 L456.73,406.38 L456.75,404.76 L456.77,403.14 L456.79,401.52 L456.82,399.90 L456.84,398.28 L456.87,396.66 L456.89,395.05 L456.92,393.43 L456.95,391.82 L456.98,390.20 L457.01,388.59 L457.05,386.98 L457.08,385.37 L457.12,383.76 L457.16,382.15 L457.20,380.54 L457.24,378.94 L457.29,377.33 L457.33,375.73 L457.38,374.13 L457.43,372.53 L457.49,370.93 L457.54,369.33 L457.60,367.74 L457.66,366.14 L457.73,364.55 L457.79,362.96 L457.86,361.38 L457.94,359.79 L458.01,358.21 L458.09,356.63 L458.18,355.05 L458.27,353.48 L458.36,351.90 L458.46,350.34 L458.56,348.77 L458.67,347.21 L458.78,345.65 L458.89,344.09 L459.02,342.54 L459.14,340.99 L459.28,339.45 L459.42,337.91 L459.57,336.38 L459.72,334.85 L459.88,333.32 L460.05,331.80 L460.23,330.29 L460.41,328.78 L461.23,322.87 L462.06,317.95 L462.88,313.77 L463.70,310.15 L464.52,306.97 L465.34,304.15 L466.17,301.62 L466.99,299.34 L467.81,297.27 L468.63,295.39 L469.46,293.66 L470.28,292.07 L471.10,290.61 L471.92,289.25 L472.74,288.00 L473.57,286.83 L474.39,285.75 L475.21,284.74 L476.03,283.80 L476.86,282.92 L477.68,282.10 L478.50,281.33 L479.32,280.61 L480.15,279.93 L480.97,279.30 L481.79,278.71 L482.61,278.16 L483.43,277.64 L484.26,277.15 L485.08,276.70 L485.90,276.28 L486.72,275.88 L487.55,275.51 L488.37,275.17 L489.19,274.85 L490.01,274.55 L490.83,274.27 L491.66,274.02 L492.48,273.78 L493.30,273.57 L494.12,273.37 L494.95,273.19 L495.77,273.02 L496.59,272.88 L497.41,272.74 L498.23,272.63 L499.06,272.52 L499.88,272.43 L500.70,272.36 L501.52,272.29 L502.35,272.24 L503.17,272.20 L503.99,272.17 L504.81,272.16 L505.63,272.15 L506.46,272.16 L507.28,272.17 L508.10,272.20 L508.92,272.23 L509.75,272.27 L510.57,272.33 L511.39,272.39 L512.21,272.46 L513.04,272.54 L513.86,272.62 L514.68,272.72 L515.50,272.82 L516.32,272.93 L517.15,273.04 L517.97,273.17 L518.79,273.30 L519.61,273.44 L520.44,273.58 L521.26,273.73 L522.08,273.89 L522.90,274.05 L523.72,274.22 L524.55,274.39 L525.37,274.57 L526.19,274.76 L527.01,274.95 L527.84,275.15 L528.66,275.35 L529.48,275.56 L530.30,275.77 L531.12,275.99 L531.95,276.21 L532.77,276.44 L533.59,276.67 L534.41,276.91 L535.24,277.15 L536.06,277.40 L536.88,277.65 L537.70,277.90 L538.52,278.16 L539.35,278.43 L540.17,278.69 L540.99,278.97 L541.81,279.24 L542.64,279.52 L543.46,279.80 L544.28,280.09 L545.10,280.38 L545.93,280.67 L546.75,280.97 L547.57,281.27 L548.39,281.58 L549.21,281.89 L550.04,282.20 L550.86,282.51 L551.68,282.83 L552.50,283.15 L553.33,283.48 L554.15,283.81 L554.97,284.14 L555.79,284.47 L556.61,284.81 L557.44,285.15 L558.26,285.49 L559.08,285.84 L559.90,286.19 L560.73,286.54 L561.55,286.90 L562.37,287.26 L563.19,287.62 L564.01,287.98 L564.84,288.35 L565.66,288.71 L566.48,289.09 L567.30,289.46 L568.13,289.84 L568.95,290.21 L569.77,290.60 L570.59,290.98 L571.41,291.37 L572.24,291.76 L573.06,292.15 L573.88,292.54 L574.70,292.94 L575.53,293.34 L576.35,293.74 L577.17,294.14 L577.99,294.54 L578.82,294.95 L579.64,295.36 L580.46,295.77 L581.28,296.19 L582.10,296.60 L582.93,297.02 L583.75,297.44 L584.57,297.87 L585.39,298.29 L586.22,298.72 L587.04,299.15 L587.86,299.58 L588.68,300.01 L589.50,300.45 L590.33,300.88 L591.15,301.32 L591.97,301.76 L592.79,302.21 L593.62,302.65 L594.44,303.10 L595.26,303.55 L596.08,304.00 L596.90,304.45 L597.73,304.90 L598.55,305.36 L599.37,305.82 L600.19,306.28 L601.02,306.74 L601.84,307.20 L602.66,307.67 L603.48,308.13 L604.30,308.60 L605.13,309.07 L605.95,309.55 L606.77,310.02 L607.59,310.49 L608.42,310.97 L609.24,311.45 L610.06,311.93 L610.88,312.41 L611.71,312.90 L612.53,313.38 L613.35,313.87 L614.17,314.36 L614.99,314.85 L615.82,315.34 L616.64,315.83 L617.46,316.33 L618.28,316.82 L619.11,317.32 L619.93,317.82 L620.75,318.32 L621.57,318.83 L622.39,319.33 L623.22,319.84 L624.04,320.34 L624.86,320.85 L625.68,321.36 L626.51,321.87 L627.33,322.39 L628.15,322.90 L628.97,323.42 L629.79,323.93 L630.62,324.45 L631.44,324.97 L632.26,325.49 L633.08,326.02 L633.91,326.54 L634.73,327.07 L635.55,327.59 L636.37,328.12 L637.19,328.65 L638.02,329.18 L638.84,329.71 L639.66,330.24 L640.48,330.78 L641.31,331.31 L642.13,331.85 L642.95,332.39 L643.77,332.92 L644.60,333.46 L645.42,334.00 L646.24,334.55 L647.06,335.09 L647.88,335.63 L648.71,336.18 L649.53,336.73 L650.35,337.27 L651.17,337.82 L652.00,338.37 L652.82,338.92 L653.64,339.47 L654.46,340.03 L655.28,340.58 L656.11,341.13 L656.93,341.69 L657.75,342.25 L658.57,342.80 L659.40,343.36 L660.22,343.92 L661.04,344.48 L661.86,345.04 L662.68,345.60 L663.51,346.17 L664.33,346.73 L665.15,347.29 L665.97,347.86 L666.80,348.42 L667.62,348.99 L668.44,349.56 L669.26,350.13 L670.08,350.70 L670.91,351.27 L671.73,351.84 L672.55,352.41 L673.37,352.98 L674.20,353.56 L675.02,354.13 L675.84,354.70 L676.66,355.28 L677.49,355.86 L678.31,356.43 L679.13,357.01 L679.95,357.59 L680.77,358.17 L681.60,358.75 L682.42,359.33 L683.24,359.91 L684.06,360.49 L684.89,361.07 L685.71,361.65 L686.53,362.23 L687.35,362.82 L688.17,363.40 L689.00,363.99 L689.82,364.58 L690.64,365.17 L691.46,365.75 L692.29,366.35 L693.11,366.94 L693.93,367.53 L694.75,368.13 L695.57,368.72 L696.40,369.32 L697.22,369.92 L698.04,370.52 L698.86,371.12 L699.69,371.73 L700.51,372.33 L701.33,372.94 L702.15,373.55 L702.97,374.16 L703.80,374.78 L704.62,375.40 L705.44,376.01 L706.26,376.64 L707.09,377.26 L707.91,377.88 L708.73,378.51 L709.55,379.14 L710.38,379.78 L711.20,380.41 L712.02,381.05 L712.84,381.70 L713.66,382.34 L714.49,382.99 L715.31,383.64 L716.13,384.29 L716.95,384.95 L717.78,385.61 L718.60,386.27 L719.42,386.94 L720.24,387.61 L721.06,388.28 L721.89,388.96 L722.71,389.64 L723.53,390.33 L724.35,391.01 L725.18,391.71 L726.00,392.40 L726.82,393.10 L727.64,393.80 L728.46,394.51 L729.29,395.22 L730.11,395.94 L730.93,396.66 L731.75,397.39 L732.58,398.12 L733.40,398.85 L734.22,399.59 L735.04,400.34 L735.86,401.09 L736.69,401.84 L737.51,402.60 L738.33,403.37 L739.15,404.14 L739.98,404.92 L740.80,405.71 L741.62,406.50 L742.44,407.30 L743.27,408.10 L744.09,408.91 L744.91,409.73 L745.73,410.55 L746.55,411.39 L747.38,412.22 L748.20,413.07 L749.02,413.92 L749.84,414.77 L750.67,415.63 L751.49,416.48 L752.31,417.34 L753.13,418.20 L753.95,419.05 L754.78,419.91 L755.60,420.76 L756.42,421.61 L757.24,422.45 L758.07,423.28 L758.89,424.11 L759.71,424.93 L760.53,425.75 L761.35,426.55 L762.18,427.34 L763.00,428.12 L763.82,428.88 L764.64,429.64 L765.47,430.39 L766.29,431.13 L767.11,431.86 L767.93,432.59 L768.75,433.32 L769.58,434.06 L770.40,434.79 L771.22,435.53 L772.04,436.27 L772.87,437.03 L773.69,437.79 L774.51,438.57 L775.33,439.36 L776.16,440.16 L776.98,440.98 L777.80,441.83 L778.62,442.69 L779.44,443.58 L780.27,444.49 L781.09,445.43 L781.91,446.38 L782.73,447.36 L783.56,448.36 L784.38,449.37 L785.20,450.40 L786.02,451.44 L786.84,452.49 L787.67,453.56 L788.49,454.64 L789.31,455.72 L790.13,456.82 L790.96,457.91 L791.78,459.02 L792.60,460.13 L793.42,461.24 L794.24,462.35 L795.07,463.45 L795.89,464.56 L796.71,465.67 L797.53,466.76 L798.36,467.86 L799.18,468.94 L800.00,470.01 L800.82,471.08 L801.64,472.13 L802.47,473.17 L803.29,474.20 L804.11,475.21 L804.93,476.20 L805.76,477.17 L806.58,478.12 L807.10,478.71" fill="none" stroke="#0000ff" stroke-width="4.7" stroke-dasharray="4.4 6.05" stroke-dashoffset="1.85"/>
<path d="M445.1,460.1 V542.8" stroke="#ffb4b4" stroke-width="1.1" fill="none"/>
<path d="M149.30,52.56 L150.12,52.54 L150.94,52.53 L151.77,52.53 L152.59,52.52 L153.41,52.52 L154.23,52.53 L155.06,52.53 L155.88,52.55 L156.70,52.56 L157.52,52.58 L158.34,52.60 L159.17,52.63 L159.99,52.66 L160.81,52.69 L161.63,52.73 L162.46,52.77 L163.28,52.81 L164.10,52.86 L164.92,52.91 L165.75,52.97 L166.57,53.03 L167.39,53.09 L168.21,53.16 L169.03,53.23 L169.86,53.30 L170.68,53.38 L171.50,53.46 L172.32,53.54 L173.15,53.63 L173.97,53.72 L174.79,53.81 L175.61,53.91 L176.43,54.01 L177.26,54.11 L178.08,54.22 L178.90,54.33 L179.72,54.45 L180.55,54.57 L181.37,54.69 L182.19,54.81 L183.01,54.94 L183.83,55.07 L184.66,55.21 L185.48,55.35 L186.30,55.49 L187.12,55.63 L187.95,55.78 L188.77,55.93 L189.59,56.09 L190.41,56.25 L191.23,56.41 L192.06,56.57 L192.88,56.74 L193.70,56.91 L194.52,57.09 L195.35,57.27 L196.17,57.45 L196.99,57.63 L197.81,57.82 L198.63,58.01 L199.46,58.20 L200.28,58.40 L201.10,58.60 L201.92,58.81 L202.75,59.01 L203.57,59.22 L204.39,59.43 L205.21,59.65 L206.04,59.87 L206.86,60.09 L207.68,60.32 L208.50,60.55 L209.32,60.78 L210.15,61.01 L210.97,61.25 L211.79,61.49 L212.61,61.73 L213.44,61.98 L214.26,62.23 L215.08,62.48 L215.90,62.74 L216.72,63.00 L217.55,63.26 L218.37,63.52 L219.19,63.79 L220.01,64.06 L220.84,64.33 L221.66,64.61 L222.48,64.89 L223.30,65.17 L224.12,65.46 L224.95,65.75 L225.77,66.04 L226.59,66.33 L227.41,66.63 L228.24,66.93 L229.06,67.23 L229.88,67.54 L230.70,67.84 L231.53,68.16 L232.35,68.47 L233.17,68.79 L233.99,69.11 L234.81,69.43 L235.64,69.75 L236.46,70.08 L237.28,70.41 L238.10,70.75 L238.93,71.08 L239.75,71.42 L240.57,71.76 L241.39,72.11 L242.21,72.46 L243.04,72.81 L243.86,73.16 L244.68,73.51 L245.50,73.87 L246.33,74.23 L247.15,74.60 L247.97,74.96 L248.79,75.33 L249.61,75.71 L250.44,76.08 L251.26,76.46 L252.08,76.84 L252.90,77.22 L253.73,77.60 L254.55,77.99 L255.37,78.38 L256.19,78.77 L257.01,79.17 L257.84,79.57 L258.66,79.97 L259.48,80.37 L260.30,80.78 L261.13,81.19 L261.95,81.60 L262.77,82.01 L263.59,82.43 L264.42,82.85 L265.24,83.27 L266.06,83.69 L266.88,84.12 L267.70,84.55 L268.53,84.98 L269.35,85.41 L270.17,85.85 L270.99,86.29 L271.82,86.73 L272.64,87.18 L273.46,87.62 L274.28,88.07 L275.10,88.52 L275.93,88.98 L276.75,89.44 L277.57,89.89 L278.39,90.36 L279.22,90.82 L280.04,91.29 L280.86,91.76 L281.68,92.23 L282.50,92.70 L283.33,93.18 L284.15,93.66 L284.97,94.14 L285.79,94.62 L286.62,95.11 L287.44,95.60 L288.26,96.09 L289.08,96.59 L289.90,97.08 L290.73,97.58 L291.55,98.09 L292.37,98.59 L293.19,99.10 L294.02,99.61 L294.84,100.12 L295.66,100.64 L296.48,101.16 L297.31,101.68 L298.13,102.20 L298.95,102.73 L299.77,103.26 L300.59,103.79 L301.42,104.32 L302.24,104.86 L303.06,105.40 L303.88,105.94 L304.71,106.49 L305.53,107.04 L306.35,107.59 L307.17,108.14 L307.99,108.70 L308.82,109.26 L309.64,109.82 L310.46,110.39 L311.28,110.95 L312.11,111.53 L312.93,112.10 L313.75,112.68 L314.57,113.26 L315.39,113.84 L316.22,114.43 L317.04,115.02 L317.86,115.61 L318.68,116.20 L319.51,116.80 L320.33,117.40 L321.15,118.01 L321.97,118.61 L322.79,119.23 L323.62,119.84 L324.44,120.46 L325.26,121.08 L326.08,121.70 L326.91,122.33 L327.73,122.96 L328.55,123.59 L329.37,124.23 L330.20,124.87 L331.02,125.51 L331.84,126.16 L332.66,126.81 L333.48,127.46 L334.31,128.12 L335.13,128.78 L335.95,129.44 L336.77,130.11 L337.60,130.78 L338.42,131.46 L339.24,132.14 L340.06,132.82 L340.88,133.51 L341.71,134.20 L342.53,134.89 L343.35,135.59 L344.17,136.29 L345.00,137.00 L345.82,137.70 L346.64,138.42 L347.46,139.13 L348.28,139.85 L349.11,140.58 L349.93,141.30 L350.75,142.03 L351.57,142.77 L352.40,143.50 L353.22,144.25 L354.04,144.99 L354.86,145.74 L355.68,146.49 L356.51,147.24 L357.33,148.00 L358.15,148.76 L358.97,149.52 L359.80,150.29 L360.62,151.06 L361.44,151.84 L362.26,152.61 L363.09,153.39 L363.91,154.18 L364.73,154.96 L365.55,155.75 L366.37,156.55 L367.20,157.34 L368.02,158.14 L368.84,158.95 L369.66,159.75 L370.49,160.56 L371.31,161.37 L372.13,162.19 L372.95,163.01 L373.77,163.83 L374.60,164.66 L375.42,165.49 L376.24,166.32 L377.06,167.16 L377.89,168.00 L378.71,168.84 L379.53,169.69 L380.35,170.54 L381.17,171.39 L382.00,172.25 L382.82,173.11 L383.64,173.98 L384.46,174.85 L385.29,175.72 L386.11,176.61 L386.93,177.50 L387.75,178.40 L388.57,179.31 L389.40,180.24 L390.22,181.17 L391.04,182.12 L391.86,183.09 L392.69,184.07 L393.51,185.07 L394.33,186.08 L395.15,187.12 L395.98,188.18 L396.80,189.26 L397.62,190.37 L398.44,191.50 L399.26,192.66 L400.09,193.84 L400.91,195.06 L401.73,196.30 L402.55,197.57 L403.38,198.86 L404.20,200.16 L405.02,201.47 L405.84,202.77 L406.66,204.07 L407.49,205.35 L408.31,206.61 L409.13,207.85 L409.95,209.06 L410.78,210.25 L411.60,211.44 L412.42,212.63 L413.24,213.83 L414.06,215.05 L414.89,216.30 L415.71,217.59 L416.53,218.93 L417.35,220.33 L418.18,221.79 L419.00,223.33 L419.82,224.93 L420.64,226.61 L421.46,228.35 L422.29,230.16 L423.11,232.04 L423.93,233.98 L424.75,236.00 L425.58,238.08 L426.40,240.24 L427.22,242.48 L428.04,244.79 L428.87,247.19 L429.69,249.67 L430.51,252.25 L431.33,254.94 L432.15,257.74 L432.98,260.67 L433.80,263.75 L434.62,267.00 L435.44,270.44 L436.27,274.11 L437.09,278.07 L437.91,282.37 L438.73,287.10 L439.55,292.40 L440.38,298.47 L440.99,303.67 L441.17,305.39 L441.35,307.10 L441.52,308.81 L441.68,310.52 L441.83,312.23 L441.98,313.93 L442.12,315.62 L442.26,317.32 L442.38,319.01 L442.51,320.70 L442.62,322.39 L442.73,324.08 L442.84,325.77 L442.94,327.45 L443.04,329.13 L443.13,330.81 L443.22,332.49 L443.31,334.16 L443.39,335.84 L443.46,337.51 L443.54,339.18 L443.61,340.85 L443.67,342.52 L443.74,344.19 L443.80,345.85 L443.86,347.52 L443.91,349.18 L443.97,350.84 L444.02,352.50 L444.07,354.17 L444.11,355.82 L444.16,357.48 L444.20,359.14 L444.24,360.80 L444.28,362.45 L444.32,364.11 L444.35,365.76 L444.39,367.41 L444.42,369.07 L444.45,370.72 L444.48,372.37 L444.51,374.02 L444.53,375.67 L444.56,377.32 L444.58,378.97 L444.61,380.62 L444.63,382.26 L444.65,383.91 L444.67,385.56 L444.69,387.20 L444.71,388.85 L444.73,390.49 L444.74,392.14 L444.76,393.78 L444.77,395.42 L444.79,397.07 L444.80,398.71 L444.82,400.35 L444.83,402.00 L444.84,403.64 L444.85,405.28 L444.86,406.92 L444.87,408.56 L444.88,410.20 L444.89,411.84 L444.90,413.48 L444.91,415.12 L444.92,416.76 L444.93,418.40 L444.94,420.04 L444.94,421.68 L444.95,423.32 L444.96,424.96 L444.96,426.60 L444.97,428.24 L444.98,429.87 L444.98,431.51 L444.99,433.15 L444.99,434.79 L445.00,436.43 L445.00,438.06 L445.01,439.70 L445.01,441.34 L445.01,442.98 L445.02,444.61 L445.02,446.25 L445.03,447.89 L445.03,449.52 L445.03,451.16 L445.03,452.80 L445.04,454.43 L445.04,456.07 L445.04,457.71 L445.05,459.34 L445.10,460.10 L445.15,459.41 L445.16,457.77 L445.16,456.14 L445.16,454.51 L445.17,452.88 L445.17,451.24 L445.17,449.61 L445.17,447.98 L445.18,446.34 L445.18,444.71 L445.19,443.08 L445.19,441.45 L445.19,439.81 L445.20,438.18 L445.20,436.55 L445.21,434.92 L445.21,433.29 L445.22,431.66 L445.22,430.02 L445.23,428.39 L445.24,426.76 L445.24,425.13 L445.25,423.50 L445.26,421.87 L445.26,420.24 L445.27,418.61 L445.28,416.98 L445.29,415.35 L445.30,413.72 L445.31,412.09 L445.32,410.46 L445.33,408.83 L445.34,407.21 L445.35,405.58 L445.36,403.95 L445.37,402.32 L445.38,400.70 L445.40,399.07 L445.41,397.44 L445.43,395.82 L445.44,394.19 L445.46,392.57 L445.47,390.94 L445.49,389.32 L445.51,387.70 L445.53,386.08 L445.55,384.45 L445.57,382.83 L445.59,381.21 L445.62,379.59 L445.64,377.97 L445.67,376.35 L445.69,374.74 L445.72,373.12 L445.75,371.51 L445.78,369.89 L445.81,368.28 L445.85,366.67 L445.88,365.05 L445.92,363.44 L445.96,361.84 L446.00,360.23 L446.04,358.62 L446.09,357.02 L446.13,355.42 L446.18,353.82 L446.23,352.22 L446.29,350.62 L446.34,349.03 L446.40,347.43 L446.46,345.85 L446.53,344.26 L446.59,342.67 L446.66,341.09 L446.74,339.51 L446.81,337.94 L446.89,336.37 L446.98,334.80 L447.07,333.24 L447.16,331.68 L447.26,330.12 L447.36,328.57 L447.47,327.03 L447.58,325.49 L447.69,323.95 L447.82,322.43 L447.94,320.90 L448.08,319.39 L448.22,317.88 L448.37,316.38 L448.52,314.89 L448.68,313.40 L448.85,311.92 L449.03,310.45 L449.21,308.99 L450.03,303.30 L450.86,298.59 L451.68,294.59 L452.50,291.12 L453.32,288.06 L454.14,285.33 L454.97,282.88 L455.79,280.66 L456.61,278.62 L457.43,276.76 L458.26,275.03 L459.08,273.44 L459.90,271.95 L460.72,270.57 L461.54,269.28 L462.37,268.08 L463.19,266.96 L464.01,265.91 L464.83,264.93 L465.66,264.01 L466.48,263.15 L467.30,262.34 L468.12,261.58 L468.95,260.87 L469.77,260.20 L470.59,259.57 L471.41,258.98 L472.23,258.42 L473.06,257.90 L473.88,257.41 L474.70,256.95 L475.52,256.52 L476.35,256.11 L477.17,255.73 L477.99,255.38 L478.81,255.04 L479.63,254.73 L480.46,254.44 L481.28,254.17 L482.10,253.92 L482.92,253.69 L483.75,253.48 L484.57,253.28 L485.39,253.10 L486.21,252.93 L487.03,252.78 L487.86,252.64 L488.68,252.52 L489.50,252.41 L490.32,252.32 L491.15,252.23 L491.97,252.16 L492.79,252.10 L493.61,252.06 L494.43,252.02 L495.26,251.99 L496.08,251.98 L496.90,251.97 L497.72,251.97 L498.55,251.99 L499.37,252.01 L500.19,252.04 L501.01,252.08 L501.84,252.13 L502.66,252.19 L503.48,252.25 L504.30,252.32 L505.12,252.40 L505.95,252.49 L506.77,252.59 L507.59,252.69 L508.41,252.80 L509.24,252.91 L510.06,253.03 L510.88,253.16 L511.70,253.30 L512.52,253.44 L513.35,253.59 L514.17,253.74 L514.99,253.90 L515.81,254.06 L516.64,254.23 L517.46,254.41 L518.28,254.59 L519.10,254.77 L519.92,254.96 L520.75,255.16 L521.57,255.36 L522.39,255.57 L523.21,255.78 L524.04,255.99 L524.86,256.21 L525.68,256.44 L526.50,256.66 L527.32,256.90 L528.15,257.13 L528.97,257.38 L529.79,257.62 L530.61,257.87 L531.44,258.12 L532.26,258.38 L533.08,258.64 L533.90,258.91 L534.73,259.18 L535.55,259.45 L536.37,259.73 L537.19,260.01 L538.01,260.29 L538.84,260.58 L539.66,260.87 L540.48,261.16 L541.30,261.46 L542.13,261.76 L542.95,262.06 L543.77,262.37 L544.59,262.68 L545.41,262.99 L546.24,263.30 L547.06,263.62 L547.88,263.94 L548.70,264.27 L549.53,264.60 L550.35,264.93 L551.17,265.26 L551.99,265.60 L552.81,265.94 L553.64,266.28 L554.46,266.62 L555.28,266.97 L556.10,267.32 L556.93,267.67 L557.75,268.03 L558.57,268.38 L559.39,268.74 L560.21,269.11 L561.04,269.47 L561.86,269.84 L562.68,270.21 L563.50,270.58 L564.33,270.96 L565.15,271.33 L565.97,271.71 L566.79,272.09 L567.62,272.48 L568.44,272.87 L569.26,273.25 L570.08,273.65 L570.90,274.04 L571.73,274.43 L572.55,274.83 L573.37,275.23 L574.19,275.63 L575.02,276.04 L575.84,276.44 L576.66,276.85 L577.48,277.26 L578.30,277.67 L579.13,278.09 L579.95,278.50 L580.77,278.92 L581.59,279.34 L582.42,279.77 L583.24,280.19 L584.06,280.62 L584.88,281.04 L585.70,281.47 L586.53,281.91 L587.35,282.34 L588.17,282.78 L588.99,283.21 L589.82,283.65 L590.64,284.10 L591.46,284.54 L592.28,284.98 L593.10,285.43 L593.93,285.88 L594.75,286.33 L595.57,286.78 L596.39,287.24 L597.22,287.69 L598.04,288.15 L598.86,288.61 L599.68,289.07 L600.51,289.53 L601.33,290.00 L602.15,290.46 L602.97,290.93 L603.79,291.40 L604.62,291.87 L605.44,292.35 L606.26,292.82 L607.08,293.30 L607.91,293.78 L608.73,294.26 L609.55,294.74 L610.37,295.22 L611.19,295.70 L612.02,296.19 L612.84,296.68 L613.66,297.17 L614.48,297.66 L615.31,298.15 L616.13,298.65 L616.95,299.14 L617.77,299.64 L618.59,300.14 L619.42,300.64 L620.24,301.14 L621.06,301.65 L621.88,302.15 L622.71,302.66 L623.53,303.17 L624.35,303.68 L625.17,304.19 L625.99,304.70 L626.82,305.22 L627.64,305.73 L628.46,306.25 L629.28,306.77 L630.11,307.29 L630.93,307.81 L631.75,308.34 L632.57,308.86 L633.40,309.39 L634.22,309.92 L635.04,310.45 L635.86,310.98 L636.68,311.51 L637.51,312.05 L638.33,312.58 L639.15,313.12 L639.97,313.66 L640.80,314.20 L641.62,314.75 L642.44,315.29 L643.26,315.84 L644.08,316.38 L644.91,316.93 L645.73,317.48 L646.55,318.03 L647.37,318.59 L648.20,319.14 L649.02,319.70 L649.84,320.25 L650.66,320.81 L651.48,321.38 L652.31,321.94 L653.13,322.50 L653.95,323.07 L654.77,323.63 L655.60,324.20 L656.42,324.77 L657.24,325.35 L658.06,325.92 L658.88,326.49 L659.71,327.07 L660.53,327.65 L661.35,328.23 L662.17,328.81 L663.00,329.39 L663.82,329.98 L664.64,330.57 L665.46,331.15 L666.29,331.74 L667.11,332.33 L667.93,332.93 L668.75,333.52 L669.57,334.12 L670.40,334.72 L671.22,335.32 L672.04,335.92 L672.86,336.52 L673.69,337.13 L674.51,337.73 L675.33,338.34 L676.15,338.95 L676.97,339.56 L677.80,340.18 L678.62,340.79 L679.44,341.41 L680.26,342.03 L681.09,342.65 L681.91,343.27 L682.73,343.90 L683.55,344.53 L684.37,345.16 L685.20,345.79 L686.02,346.42 L686.84,347.06 L687.66,347.70 L688.49,348.34 L689.31,348.98 L690.13,349.63 L690.95,350.28 L691.77,350.93 L692.60,351.58 L693.42,352.24 L694.24,352.89 L695.06,353.56 L695.89,354.22 L696.71,354.89 L697.53,355.55 L698.35,356.23 L699.18,356.90 L700.00,357.58 L700.82,358.26 L701.64,358.95 L702.46,359.63 L703.29,360.32 L704.11,361.02 L704.93,361.71 L705.75,362.41 L706.58,363.12 L707.40,363.82 L708.22,364.53 L709.04,365.25 L709.86,365.97 L710.69,366.69 L711.51,367.41 L712.33,368.14 L713.15,368.87 L713.98,369.61 L714.80,370.35 L715.62,371.09 L716.44,371.84 L717.26,372.59 L718.09,373.35 L718.91,374.11 L719.73,374.88 L720.55,375.65 L721.38,376.42 L722.20,377.20 L723.02,377.98 L723.84,378.77 L724.66,379.56 L725.49,380.36 L726.31,381.17 L727.13,381.97 L727.95,382.79 L728.78,383.61 L729.60,384.43 L730.42,385.26 L731.24,386.09 L732.07,386.93 L732.89,387.78 L733.71,388.63 L734.53,389.49 L735.35,390.36 L736.18,391.23 L737.00,392.10 L737.82,392.99 L738.64,393.88 L739.47,394.77 L740.29,395.68 L741.11,396.59 L741.93,397.50 L742.75,398.43 L743.58,399.36 L744.40,400.30 L745.22,401.25 L746.04,402.20 L746.87,403.17 L747.69,404.14 L748.51,405.12 L749.33,406.11 L750.15,407.10 L750.98,408.11 L751.80,409.13 L752.62,410.15 L753.44,411.19 L754.27,412.23 L755.09,413.29 L755.91,414.35 L756.73,415.43 L757.55,416.51 L758.38,417.61 L759.20,418.72 L760.02,419.84 L760.84,420.98 L761.67,422.12 L762.49,423.28 L763.31,424.46 L764.13,425.64 L764.96,426.84 L765.78,428.06 L766.60,429.29 L767.42,430.54 L768.24,431.80 L769.07,433.08 L769.89,434.37 L770.71,435.69 L771.53,437.02 L772.36,438.36 L773.18,439.73 L774.00,441.11 L774.82,442.50 L775.64,443.91 L776.47,445.34 L777.29,446.78 L778.11,448.24 L778.93,449.72 L779.76,451.21 L780.58,452.72 L781.40,454.25 L782.22,455.79 L783.04,457.35 L783.87,458.94 L784.69,460.54 L785.51,462.17 L786.33,463.83 L787.16,465.53 L787.98,467.28 L788.80,469.11 L789.62,471.01 L790.44,473.01 L791.27,475.12 L792.09,477.36 L792.91,479.73 L793.73,482.27 L794.56,484.97 L795.38,487.88 L796.20,491.00 L797.02,494.37 L797.85,497.99 L798.67,501.77 L799.49,505.57 L800.31,509.35 L801.13,513.31 L801.96,517.69 L802.78,522.77 L803.60,529.01 L804.42,537.33 L805.25,548.73" fill="none" stroke="#ff0000" stroke-width="4.6" stroke-linejoin="bevel"/>
<rect x="150.30" y="543.40" width="667.80" height="30" fill="#fff"/>
<rect x="807.80" y="52.35" width="20" height="495.45" fill="#fff"/>
<path d="M149.30,542.80 v-7.00 M149.30,52.35 v7.00 M182.19,542.80 v-3.60 M182.19,52.35 v3.60 M215.08,542.80 v-3.60 M215.08,52.35 v3.60 M247.97,542.80 v-3.60 M247.97,52.35 v3.60 M280.86,542.80 v-3.60 M280.86,52.35 v3.60 M313.75,542.80 v-7.00 M313.75,52.35 v7.00 M346.64,542.80 v-3.60 M346.64,52.35 v3.60 M379.53,542.80 v-3.60 M379.53,52.35 v3.60 M412.42,542.80 v-3.60 M412.42,52.35 v3.60 M445.31,542.80 v-3.60 M445.31,52.35 v3.60 M478.20,542.80 v-7.00 M478.20,52.35 v7.00 M511.09,542.80 v-3.60 M511.09,52.35 v3.60 M543.98,542.80 v-3.60 M543.98,52.35 v3.60 M576.87,542.80 v-3.60 M576.87,52.35 v3.60 M609.76,542.80 v-3.60 M609.76,52.35 v3.60 M642.65,542.80 v-7.00 M642.65,52.35 v7.00 M675.54,542.80 v-3.60 M675.54,52.35 v3.60 M708.43,542.80 v-3.60 M708.43,52.35 v3.60 M741.32,542.80 v-3.60 M741.32,52.35 v3.60 M774.21,542.80 v-3.60 M774.21,52.35 v3.60 M807.10,542.80 v-7.00 M807.10,52.35 v7.00 M149.30,52.35 h7.00 M807.10,52.35 h-7.00 M149.30,109.48 h3.60 M807.10,109.48 h-3.60 M149.30,95.09 h3.60 M807.10,95.09 h-3.60 M149.30,84.88 h3.60 M807.10,84.88 h-3.60 M149.30,76.96 h3.60 M807.10,76.96 h-3.60 M149.30,70.48 h3.60 M807.10,70.48 h-3.60 M149.30,65.01 h3.60 M807.10,65.01 h-3.60 M149.30,60.27 h3.60 M807.10,60.27 h-3.60 M149.30,56.09 h3.60 M807.10,56.09 h-3.60 M149.30,134.09 h7.00 M807.10,134.09 h-7.00 M149.30,191.23 h3.60 M807.10,191.23 h-3.60 M149.30,176.83 h3.60 M807.10,176.83 h-3.60 M149.30,166.62 h3.60 M807.10,166.62 h-3.60 M149.30,158.70 h3.60 M807.10,158.70 h-3.60 M149.30,152.23 h3.60 M807.10,152.23 h-3.60 M149.30,146.75 h3.60 M807.10,146.75 h-3.60 M149.30,142.01 h3.60 M807.10,142.01 h-3.60 M149.30,137.83 h3.60 M807.10,137.83 h-3.60 M149.30,215.83 h7.00 M807.10,215.83 h-7.00 M149.30,272.97 h3.60 M807.10,272.97 h-3.60 M149.30,258.57 h3.60 M807.10,258.57 h-3.60 M149.30,248.36 h3.60 M807.10,248.36 h-3.60 M149.30,240.44 h3.60 M807.10,240.44 h-3.60 M149.30,233.97 h3.60 M807.10,233.97 h-3.60 M149.30,228.50 h3.60 M807.10,228.50 h-3.60 M149.30,223.75 h3.60 M807.10,223.75 h-3.60 M149.30,219.57 h3.60 M807.10,219.57 h-3.60 M149.30,297.57 h7.00 M807.10,297.57 h-7.00 M149.30,354.71 h3.60 M807.10,354.71 h-3.60 M149.30,340.32 h3.60 M807.10,340.32 h-3.60 M149.30,330.10 h3.60 M807.10,330.10 h-3.60 M149.30,322.18 h3.60 M807.10,322.18 h-3.60 M149.30,315.71 h3.60 M807.10,315.71 h-3.60 M149.30,310.24 h3.60 M807.10,310.24 h-3.60 M149.30,305.50 h3.60 M807.10,305.50 h-3.60 M149.30,301.32 h3.60 M807.10,301.32 h-3.60 M149.30,379.32 h7.00 M807.10,379.32 h-7.00 M149.30,436.45 h3.60 M807.10,436.45 h-3.60 M149.30,422.06 h3.60 M807.10,422.06 h-3.60 M149.30,411.84 h3.60 M807.10,411.84 h-3.60 M149.30,403.92 h3.60 M807.10,403.92 h-3.60 M149.30,397.45 h3.60 M807.10,397.45 h-3.60 M149.30,391.98 h3.60 M807.10,391.98 h-3.60 M149.30,387.24 h3.60 M807.10,387.24 h-3.60 M149.30,383.06 h3.60 M807.10,383.06 h-3.60 M149.30,461.06 h7.00 M807.10,461.06 h-7.00 M149.30,518.19 h3.60 M807.10,518.19 h-3.60 M149.30,503.80 h3.60 M807.10,503.80 h-3.60 M149.30,493.59 h3.60 M807.10,493.59 h-3.60 M149.30,485.67 h3.60 M807.10,485.67 h-3.60 M149.30,479.19 h3.60 M807.10,479.19 h-3.60 M149.30,473.72 h3.60 M807.10,473.72 h-3.60 M149.30,468.98 h3.60 M807.10,468.98 h-3.60 M149.30,464.80 h3.60 M807.10,464.80 h-3.60 M149.30,542.80 h7.00 M807.10,542.80 h-7.00" fill="none" stroke="#000" stroke-width="1"/>
<rect x="149.30" y="52.35" width="657.80" height="490.45" fill="none" stroke="#000" stroke-width="1.4"/>
<g stroke="#008000" stroke-width="2.1" fill="none"><path d="M179.0,419.4 H221.0 M179.0,415.8 V422.9 M221.0,415.8 V422.9"/></g>
<g fill="#008000"><path d="M200.10,412.10 L193.55,422.80 L206.65,422.80 Z"/></g>
<path d="M179.1,460.7 H220.9" stroke="#0000ff" stroke-width="4.3" stroke-dasharray="4.4 6.04" fill="none"/>
<path d="M179.1,501.9 H220.9" stroke="#ff0000" stroke-width="4.4" fill="none"/>
<text x="149.00" y="582.3" font-size="30" text-anchor="middle">0.0</text>
<text x="313.45" y="582.3" font-size="30" text-anchor="middle">2.0</text>
<text x="477.90" y="582.3" font-size="30" text-anchor="middle">4.0</text>
<text x="642.35" y="582.3" font-size="30" text-anchor="middle">6.0</text>
<text x="806.80" y="582.3" font-size="30" text-anchor="middle">8.0</text>
<text x="119.6" y="65.05" font-size="30" text-anchor="end">10</text>
<text x="119.9" y="50.75" font-size="24">0</text>
<text x="112.3" y="146.79" font-size="30" text-anchor="end">10</text>
<text x="111.4" y="132.49" font-size="24">-</text>
<text x="119.9" y="132.49" font-size="24">1</text>
<text x="112.3" y="228.53" font-size="30" text-anchor="end">10</text>
<text x="111.4" y="214.23" font-size="24">-</text>
<text x="119.9" y="214.23" font-size="24">2</text>
<text x="112.3" y="310.27" font-size="30" text-anchor="end">10</text>
<text x="111.4" y="295.97" font-size="24">-</text>
<text x="119.9" y="295.97" font-size="24">3</text>
<text x="112.3" y="392.02" font-size="30" text-anchor="end">10</text>
<text x="111.4" y="377.72" font-size="24">-</text>
<text x="119.9" y="377.72" font-size="24">4</text>
<text x="112.3" y="473.76" font-size="30" text-anchor="end">10</text>
<text x="111.4" y="459.46" font-size="24">-</text>
<text x="119.9" y="459.46" font-size="24">5</text>
<text x="112.3" y="555.50" font-size="30" text-anchor="end">10</text>
<text x="111.4" y="541.20" font-size="24">-</text>
<text x="119.9" y="541.20" font-size="24">6</text>
<text x="427.4" y="628.9" font-size="30">q</text>
<text x="454.2" y="629.6" font-size="33">(</text>
<text x="464.3" y="628.9" font-size="30">fm</text>
<text x="496.9" y="614.4" font-size="24">-</text>
<text x="504.9" y="614.4" font-size="24">1</text>
<text x="516.6" y="629.6" font-size="33">)</text>
<g transform="translate(53.8,339.5) rotate(-90)"><text x="-1.9" y="0.3" font-size="31">|</text><text x="5.7" y="0" font-size="30" textLength="19.2" lengthAdjust="spacingAndGlyphs">F</text><text x="25.2" y="7.8" font-size="23" textLength="16.0" lengthAdjust="spacingAndGlyphs">L</text><text x="40.5" y="0.7" font-size="33">(</text><text x="51.5" y="0" font-size="30">q</text><text x="66.2" y="0.7" font-size="33">)</text><text x="79.3" y="0.3" font-size="31">|</text></g>
<text x="675.0" y="131.5" font-size="25.5">4</text>
<text x="688.0" y="146.7" font-size="29.8">He</text>
<text x="238.1" y="428.8" font-size="29.5" textLength="44.6" lengthAdjust="spacingAndGlyphs">exp</text>
<text y="470.4" font-size="31" x="238.6 260.8 281.8 297.0">AV18</text>
<text y="511.0" font-size="31" x="238.6 260.8 281.8 297.0">AV18</text>
<path d="M313.7,504.5 H332.9 M323.3,495.1 V513.9" stroke="#000" stroke-width="1.3" fill="none"/>
<text y="511.0" font-size="31" x="335.7 357.7 367.4">UIX</text>
</svg></body></html>
